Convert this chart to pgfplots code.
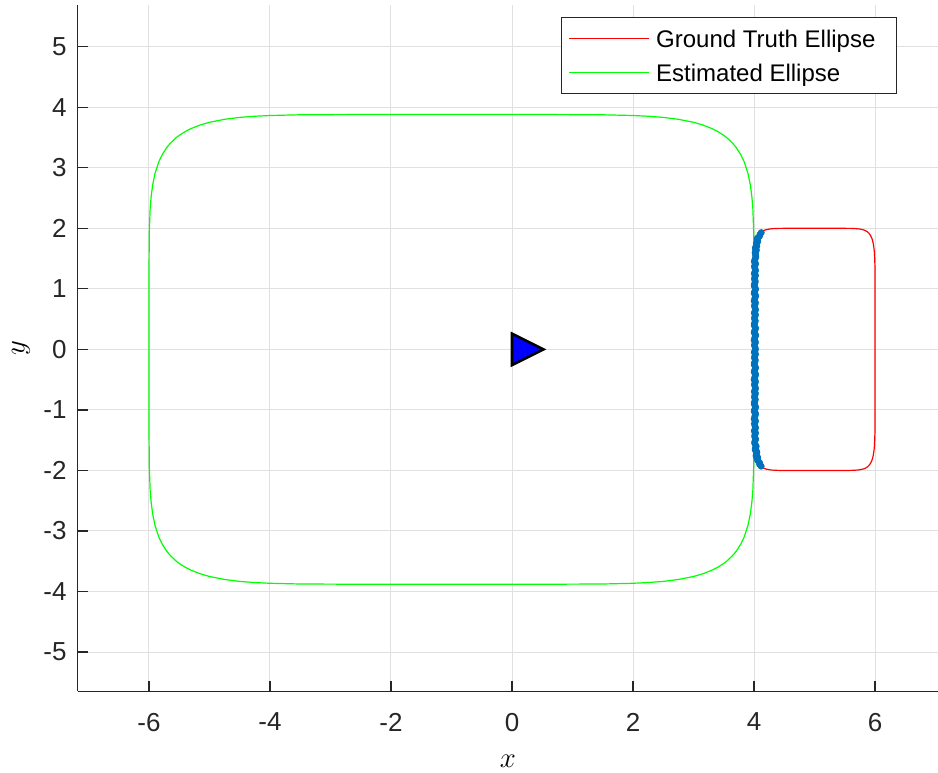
\documentclass[border=0pt]{standalone}
\usepackage{pgfplots}
\pgfplotsset{compat=1.18}
\usepackage{fontspec}
\setmainfont{Liberation Sans}
\definecolor{axisgray}{rgb}{0.15,0.15,0.15}
\definecolor{gridgray}{rgb}{0.88,0.88,0.88}
\definecolor{ptblue}{rgb}{0,0.447,0.741}
\begin{document}
\begin{tikzpicture}
\begin{axis}[
  scale only axis, width=430pt, height=343pt,
  xmin=-7.18, xmax=7.04, ymin=-5.65, ymax=5.69,
  axis lines=left,
  axis line style={-, color=axisgray, line width=0.6pt},
  tick align=inside, major tick length=5pt,
  tick style={color=axisgray, line width=0.6pt},
  xtick={-6,-4,-2,0,2,4,6}, xticklabels={-6,-4,-2,0,2,4,6},
  ytick={-5,-4,-3,-2,-1,0,1,2,3,4,5},
  yticklabels={-5,-4,-3,-2,-1,0,1,2,3,4,5},
  ticklabel style={font=\fontsize{13}{15}\selectfont, text=axisgray},
  xticklabel style={yshift=-7.2pt},
  yticklabel style={xshift=-2pt},
  grid=major, major grid style={gridgray, line width=0.5pt},
  xlabel={$x$}, ylabel={$y$},
  x label style={at={(axis description cs:0.5,-0.102)}, anchor=center, font=\fontsize{14}{16}\selectfont},
  y label style={at={(axis description cs:-0.0657,0.5)}, anchor=center, font=\fontsize{14}{16}\selectfont},
  legend style={at={(axis description cs:1,1)}, anchor=north east,
    xshift=-20.5pt, yshift=-6pt, draw=axisgray, line width=0.5pt,
    font=\fontsize{12}{14}\selectfont, inner xsep=3.5pt, inner ysep=5.85pt,
    row sep=8.05pt, nodes={inner sep=0pt, text height=9.15pt, text depth=0pt},
    /tikz/every odd column/.append style={column sep=3.2pt}},
  legend cell align=left,
  legend image code/.code={\draw[#1, line width=0.6pt] (0pt,0pt) -- (40pt,0pt);},
]
% ground truth superellipse, centre (5,0)
\addplot[red, line width=0.6pt] coordinates {
(6.000,0) (6.000,1.000) (5.999,1.200) (5.997,1.400) (5.994,1.500) (5.989,1.600) (5.983,1.660) (5.975,1.720) (5.968,1.760) (5.958,1.800) (5.945,1.840) (5.933,1.866) (5.920,1.889) (5.900,1.916) (5.880,1.936) (5.860,1.951) (5.830,1.967) (5.800,1.977) (5.750,1.988) (5.700,1.994) (5.600,1.999) (5.500,2.000) (5.000,2.000)
(4.500,2.000) (4.400,1.999) (4.300,1.994) (4.250,1.988) (4.200,1.977) (4.170,1.967) (4.140,1.951) (4.120,1.936) (4.100,1.916) (4.080,1.889) (4.067,1.866) (4.055,1.840) (4.042,1.800) (4.032,1.760) (4.025,1.720) (4.017,1.660) (4.011,1.600) (4.006,1.500) (4.003,1.400) (4.001,1.200) (4.000,1.000) (4.000,0)
(4.000,-1.000) (4.001,-1.200) (4.003,-1.400) (4.006,-1.500) (4.011,-1.600) (4.017,-1.660) (4.025,-1.720) (4.032,-1.760) (4.042,-1.800) (4.055,-1.840) (4.067,-1.866) (4.080,-1.889) (4.100,-1.916) (4.120,-1.936) (4.140,-1.951) (4.170,-1.967) (4.200,-1.977) (4.250,-1.988) (4.300,-1.994) (4.400,-1.999) (4.500,-2.000) (5.000,-2.000)
(5.500,-2.000) (5.600,-1.999) (5.700,-1.994) (5.750,-1.988) (5.800,-1.977) (5.830,-1.967) (5.860,-1.951) (5.880,-1.936) (5.900,-1.916) (5.920,-1.889) (5.933,-1.866) (5.945,-1.840) (5.958,-1.800) (5.968,-1.760) (5.975,-1.720) (5.983,-1.660) (5.989,-1.600) (5.994,-1.500) (5.997,-1.400) (5.999,-1.200) (6.000,-1.000) (6.000,0)
};
\addlegendentry{Ground Truth Ellipse\hspace*{7pt}}
% estimated superellipse, centre (-1,0)
\addplot[green, line width=0.6pt] coordinates {
(4.000,0) (4.000,1.164) (3.994,1.940) (3.980,2.328) (3.964,2.522) (3.939,2.716) (3.899,2.910) (3.835,3.104) (3.779,3.220) (3.704,3.337) (3.638,3.414) (3.556,3.492) (3.529,3.514) (3.500,3.536) (3.400,3.599) (3.300,3.650) (3.150,3.708) (3.000,3.752) (2.750,3.801) (2.500,3.833) (2.250,3.852) (2.000,3.864) (1.500,3.876) (0.500,3.880) (-1.000,3.880)
(-2.500,3.880) (-3.500,3.876) (-4.000,3.864) (-4.250,3.852) (-4.500,3.833) (-4.750,3.801) (-5.000,3.752) (-5.150,3.708) (-5.300,3.650) (-5.400,3.599) (-5.500,3.536) (-5.529,3.514) (-5.556,3.492) (-5.638,3.414) (-5.704,3.337) (-5.779,3.220) (-5.835,3.104) (-5.899,2.910) (-5.939,2.716) (-5.964,2.522) (-5.980,2.328) (-5.994,1.940) (-6.000,1.164) (-6.000,0)
(-6.000,-1.164) (-5.994,-1.940) (-5.980,-2.328) (-5.964,-2.522) (-5.939,-2.716) (-5.899,-2.910) (-5.835,-3.104) (-5.779,-3.220) (-5.704,-3.337) (-5.638,-3.414) (-5.556,-3.492) (-5.529,-3.514) (-5.500,-3.536) (-5.400,-3.599) (-5.300,-3.650) (-5.150,-3.708) (-5.000,-3.752) (-4.750,-3.801) (-4.500,-3.833) (-4.250,-3.852) (-4.000,-3.864) (-3.500,-3.876) (-2.500,-3.880) (-1.000,-3.880)
(0.500,-3.880) (1.500,-3.876) (2.000,-3.864) (2.250,-3.852) (2.500,-3.833) (2.750,-3.801) (3.000,-3.752) (3.150,-3.708) (3.300,-3.650) (3.400,-3.599) (3.500,-3.536) (3.529,-3.514) (3.556,-3.492) (3.638,-3.414) (3.704,-3.337) (3.779,-3.220) (3.835,-3.104) (3.899,-2.910) (3.939,-2.716) (3.964,-2.522) (3.980,-2.328) (3.994,-1.940) (4.000,-1.164) (4.000,0)
};
\addlegendentry{Estimated Ellipse}
% measured boundary points
\addplot[only marks, mark=*, mark size=1.5pt, color=ptblue, forget plot] coordinates {
(4.118,-1.93) (4.091,-1.90) (4.091,-1.87) (4.065,-1.84) (4.061,-1.80) (4.032,-1.76) (4.038,-1.72) (4.040,-1.68) (4.020,-1.64) (4.036,-1.60) (4.010,-1.55) (4.021,-1.50) (4.012,-1.45) (4.019,-1.40) (4.004,-1.35) (4.024,-1.30) (4.011,-1.25) (4.020,-1.20) (4.001,-1.15) (4.014,-1.10) (4.022,-1.05) (4.007,-1.00) (4.026,-0.95) (4.003,-0.90) (4.016,-0.85) (4.009,-0.80) (4.017,-0.75) (4.004,-0.70) (4.024,-0.65) (4.011,-0.60) (4.020,-0.55) (4.001,-0.50) (4.014,-0.45) (4.022,-0.40) (4.007,-0.35) (4.026,-0.30) (4.003,-0.25) (4.016,-0.20) (4.009,-0.15) (4.017,-0.10) (4.004,-0.05) (4.024,0.00) (4.011,0.05) (4.020,0.10) (4.001,0.15) (4.014,0.20) (4.022,0.25) (4.007,0.30) (4.026,0.35) (4.003,0.40) (4.016,0.45) (4.009,0.50) (4.017,0.55) (4.004,0.60) (4.024,0.65) (4.011,0.70) (4.020,0.75) (4.001,0.80) (4.014,0.85) (4.022,0.90) (4.007,0.95) (4.026,1.00) (4.003,1.05) (4.016,1.10) (4.009,1.15) (4.017,1.20) (4.004,1.25) (4.024,1.30) (4.011,1.35) (4.022,1.40) (4.004,1.45) (4.019,1.50) (4.029,1.55) (4.017,1.60) (4.039,1.64) (4.021,1.68) (4.040,1.72) (4.040,1.76) (4.058,1.80) (4.058,1.84) (4.091,1.87) (4.098,1.90) (4.120,1.93)
(4.055,-1.825) (4.059,-1.78) (4.037,-1.74) (4.046,-1.70) (4.018,-1.66) (4.029,-1.62) (4.021,-1.575) (4.011,-1.525) (4.025,-1.475) (4.010,-1.425) (4.024,-1.375) (4.012,-1.325) (4.019,-1.275) (4.006,-1.225) (4.023,-1.175) (4.010,-1.125) (4.025,-1.075) (4.002,-1.025) (4.018,-0.975) (4.013,-0.925) (4.005,-0.875) (4.021,-0.825) (4.008,-0.775) (4.024,-0.725) (4.012,-0.675) (4.019,-0.625) (4.006,-0.575) (4.023,-0.525) (4.010,-0.475) (4.025,-0.425) (4.002,-0.375) (4.018,-0.325) (4.013,-0.275) (4.005,-0.225) (4.021,-0.175) (4.008,-0.125) (4.024,-0.075) (4.012,-0.025) (4.019,0.025) (4.006,0.075) (4.023,0.125) (4.010,0.175) (4.025,0.225) (4.002,0.275) (4.018,0.325) (4.013,0.375) (4.005,0.425) (4.021,0.475) (4.008,0.525) (4.024,0.575) (4.012,0.625) (4.019,0.675) (4.006,0.725) (4.023,0.775) (4.010,0.825) (4.025,0.875) (4.002,0.925) (4.018,0.975) (4.013,1.025) (4.005,1.075) (4.021,1.125) (4.008,1.175) (4.024,1.225) (4.012,1.275) (4.019,1.325) (4.006,1.375) (4.023,1.425) (4.012,1.475) (4.030,1.525) (4.020,1.575) (4.030,1.62) (4.022,1.66) (4.044,1.70) (4.037,1.74) (4.061,1.78) (4.051,1.825)
};
% sensor pose
\addplot[draw=black, fill=blue, line width=1.3pt, line join=miter, forget plot] coordinates {(0,0.26) (0.52,0) (0,-0.26)} -- cycle;
\end{axis}
\pgfresetboundingbox
\path[use as bounding box] ([shift={(-38.75pt,-40.5pt)}]current axis.south west) rectangle ([shift={(0pt,2.5pt)}]current axis.north east);
\end{tikzpicture}
\end{document}
